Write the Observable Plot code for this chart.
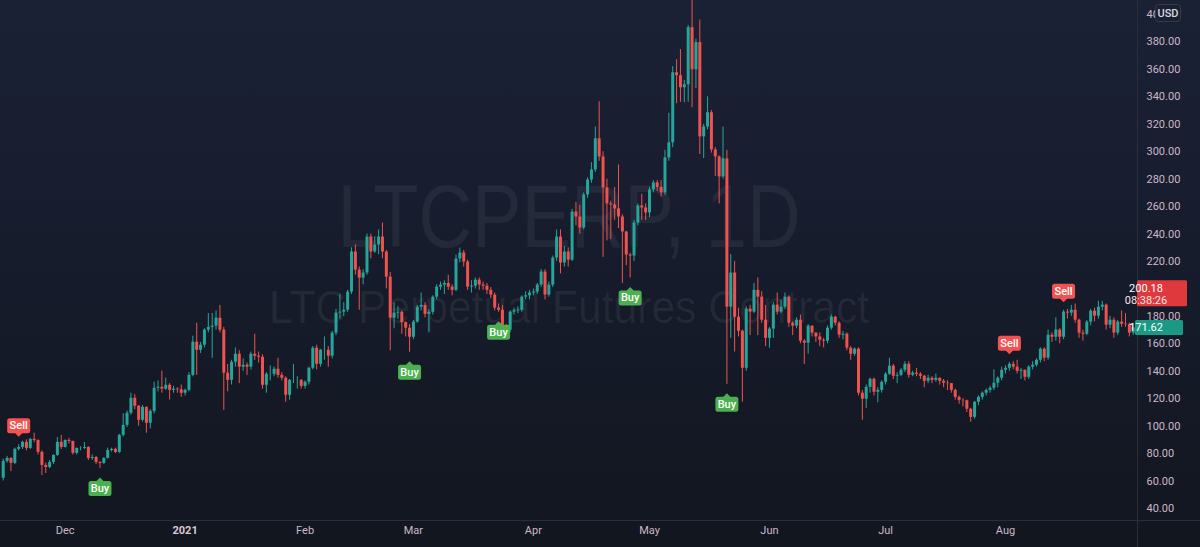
<!DOCTYPE html>
<html>
<head>
<meta charset="utf-8">
<script src="https://cdn.jsdelivr.net/npm/d3@7"></script>
<script src="https://cdn.jsdelivr.net/npm/@observablehq/plot@0.6"></script>
<style>
html,body{margin:0;padding:0;background:#131722;}
#chart{width:1200px;height:547px;position:relative;overflow:hidden;
  background:linear-gradient(180deg,#1b2135 0%,#171c2d 45%,#12161f 100%);}
#chart svg{display:block;}
</style>
</head>
<body>
<div id="chart"></div>
<script>
// ---------- DATA ----------
const startDate = "2020-11-15";   // first daily candle
const firstOpen = 62;
const closes = [
  74.3,76.5,72.9,83.1,84.5,88.2,83.8,90.4,89.6,80.9,
  71.4,69.9,73.6,78.7,88.2,84.5,89.6,88.9,80.2,83.8,
  83.8,84.5,76.5,77.2,73.6,72.9,76.5,82.3,83.1,80.9,
  93.3,100.6,109.4,120.3,114.5,104.3,113.7,102.1,110.8,127.6,
  128.3,127,129.8,126.1,127,126.5,124,126.1,137,161.2,
  155.3,159,170,172,172.9,178.7,170,138.6,133.4,146.6,
  152.4,143,144.4,143,152.4,151,150.2,129.8,137.8,137.8,
  141.5,137,134.9,122.5,133.4,133.4,133.4,129,132,142.2,
  156.8,145.1,155.3,155.3,151,167.8,182.4,
  183.1,184.5,197.7,226.9,213.7,207.9,211.6,237.8,226.9,
  232,
  237.8,226.9,208.6,178.7,182.4,183,175.4,171.4,164.8,
  175.8,186.7,188,181.5,183,194,201.3,202.8,204,201.3,
  199,221.8,226.2,219.6,201.3,202,206.4,202.8,202,199,
  195.5,186,184.5,
  171.4,170,183.1,184,184.5,194,
  195,
  197,197.7,202.8,212.3,195.5,202.8,222.5,237.8,218.9,226.9,
  221,256,252.4,244.4,268.5,279.4,286.7,309.4,296.2,273.6,
  262,261.2,258.3,252.4,241.5,224.7,224,248,260.5,259,
  255.4,272.1,277.3,
  274,
  270,295.5,306.5,357.5,355.4,346.6,348.8,390.4,359.7,379.5,
  310.8,318,328.4,301.3,296.2,281.6,294.8,186.7,
  211.6,179.4,169.2,142.2,185.3,183.1,199,194,177.2,164,
  170.7,188.2,183.1,186.7,194,175,172.9,177.2,161.9,160.5,
  172.9,167.8,
  165,
  162.6,161.9,171.4,179.4,175,166.3,167,156.8,152.4,156.1,
  124,119.6,128.3,134.2,124.7,126.1,132,137.8,143.7,136.4,
  137,140.7,145.1,137.1,138.6,137.8,136.4,132.7,134.9,133.4,
  134.9,132.7,131.3,131,126.1,121,118.8,118.5,112.3,106.4,
  117.4,121,124,126.1,127.6,131.3,134.9,140.7,142.2,145.1,
  143,140,140.7,135.6,143,144.4,148,156.1,149.5,166.3,
  164.8,170,164.8,183.1,182.4,184.5,177.2,167.8,167,175.8,
  183.8,180.2,186.7,188.2,173.6,177.2,167.8,175.8,174.3,174,
  167.8,171.62
];
const highs = [
  76,78,77,84,86.5,89,90,91,94.8,90,
  82,73,75,79,91.8,93.3,90,91,89,84,
  85,88,85,79,78,74,77,84,84,84,
  94,109,111,124,123,115,115,114,112,132,
  133,140,135,131,129,128,130,127,139,165.6,
  175,161,171,182,182,184,188,172,145,148,
  157,155,149,146,154,167,154,152,139,144,
  143,149.5,139,136,134,145,136,134,133,143,
  158,159,156,165,158,169,185,
  196,190,199,230,232,216,214,240,240,
  238,
  243,248,228,212,190,187,184,176,174,
  177,188,197,190,185,195,203,205,206,210,
  203,224.7,229.8,228,221,206,208,208,205,204,
  201,197,189,
  188,174,184,186,187,195,
  198,
  199,200,204,214,214,205,224,243,243,231,
  230,258,263,261,270,281,292,318,336.4,300,
  280,264,274,290.4,254,242,226,250,262,269,
  262,274,279,
  279,
  279,301,328,362,367,374.4,352,392,411,382,
  396,320,340,330,303,297,318,301,
  225,220,186,170,187,188,204,208,198,188,
  172,190,197,192,197,195,176,179,181,163,
  174,173,
  168,
  168,164,173,181,180,176,169,168,158,157,
  157,126,130,135,135,128,133,139,149.5,145,
  139,142,147,147,140,142,139,137,137,136,
  138,135,134,133,131,127,122,120,119,113,
  118,122,125,127,129,141,136,143,144,146.5,
  147,148,142,141,144,147,149,157,157,170,
  168,179,171,184.5,185,188,189,178,170,177,
  185,186,191,191,189,180,179,177,184,182,
  175,175
];
const lows = [
  60,73,67,72,82,83,82,83,88,79,
  64,65.5,69,72,78,83,84,87,79,79,
  82,83,75,75,72,69.2,72,76,81,80,
  80,92,99,108,112,100,103,94.8,98,109,
  125,124,126,119,124,124,121,122,125,136,
  137,153,157,168,149.5,170,168,111.5,125,130,
  143,131,140,137,141,148,146,127,124,133,
  136,135,133,117.4,119,131,127,127,127,130,
  141,141,143,148,143,149,166,
  178,180,183,196,210,184.5,203,210,222,
  226,
  225,222,200,155,171,178,167,165,153.9,
  163,175,184,179,168.5,181,192,199,196,199,
  195,198,219,216,199,197,200,199,199,196,
  193,184,183,
  168,164.8,168,181,182,183,
  192,
  192,195,196,201,192,194,201,220,211,216,
  216,220,246,240,243,266,277,285,293,223,
  235,236,250,244,204,217,208,220,246,250,
  250,252,270,
  271,
  267,268,293,303,335,336,335.7,336,332,346,
  298,295,316,299,282,262,280,130.5,
  164,154,165,117.4,140,166,182,166,175,158,
  156.8,164,181,182,185,172,166,171,160,145,
  152.4,165,
  161,
  158,157,160,170,173,164,163,155,148,151,
  122,104.3,113,124,122,117,124,130,137,134,
  131,136,139,135,136,136,134,128,131,131,
  132,130,128,126,124,119,116,114,110,102.8,
  105,115,119,122,124,126,128,133,138,140,
  141,138,134,133,134,141,143,146,147,148,
  161,162,160,163,178,180,175,164,162,166,
  173,176,178,184,170,171,164,166,172,172,
  165,166
];
const signalDates = ["2020-11-19","2020-12-10","2021-02-28","2021-03-23","2021-04-26","2021-05-21","2021-08-02","2021-08-16"];
const signalTypes = ["Sell","Buy","Buy","Buy","Buy","Buy","Sell","Sell"];
const yTicks = [40,60,80,100,120,140,160,180,200,220,240,260,280,300,320,340,360,380,400];
const monthDates = ["2020-12-01","2021-02-01","2021-03-01","2021-04-01","2021-05-01","2021-06-01","2021-07-01","2021-08-01"];
const monthLabels = ["Dec","Feb","Mar","Apr","May","Jun","Jul","Aug"];
const yearDates = ["2021-01-01"];
const yearLabels = ["2021"];
const watermarkTitle = "LTCPERP, 1D";
const watermarkSubtitle = "LTC Perpetual Futures Contract";
const lastPrice = 171.62;
const alertPrice = 200.18;
const alertTimer = "08:38:26";
const currency = "USD";

// ---------- BUILD ----------
const day = 864e5;
const t0 = +new Date(startDate);
const candles = closes.map((c, i) => {
  const open = i === 0 ? firstOpen : closes[i - 1];
  return {date: new Date(t0 + i * day), open, close: c,
          high: Math.max(highs[i], open, c), low: Math.min(lows[i], open, c)};
});
const up = candles.filter(d => d.close >= d.open);
const down = candles.filter(d => d.close < d.open);
const byDate = new Map(candles.map(d => [+d.date, d]));
const signals = signalDates.map((s, i) => {
  const c = byDate.get(+new Date(s));
  return {date: c.date, type: signalTypes[i], price: signalTypes[i] === "Sell" ? c.high : c.low};
});
const sells = signals.filter(d => d.type === "Sell");
const buys = signals.filter(d => d.type === "Buy");
const months = monthDates.map((d, i) => ({date: new Date(d), label: monthLabels[i]}));
const years = yearDates.map((d, i) => ({date: new Date(d), label: yearLabels[i]}));

function labelSymbol(above) {
  const s = above ? -1 : 1, w = 11.5, h = 15, p = 3.5, r = 2.5;
  return {draw(ctx) {
    const a = s * p, b = s * (p + h);
    ctx.moveTo(0, 0);
    ctx.lineTo(p, a);
    ctx.lineTo(w - r, a);
    ctx.arcTo(w, a, w, a + s * r, r);
    ctx.lineTo(w, b - s * r);
    ctx.arcTo(w, b, w - r, b, r);
    ctx.lineTo(-w + r, b);
    ctx.arcTo(-w, b, -w, b - s * r, r);
    ctx.lineTo(-w, a + s * r);
    ctx.arcTo(-w, a, -w + r, a, r);
    ctx.lineTo(-p, a);
    ctx.closePath();
  }};
}

const UP = "#26a69a", DOWN = "#ef5350";
const TXT = "#cdb8c7";
const W = 1200, H = 547, MR = 63, MB = 27;

const plot = Plot.plot({
  width: W, height: H,
  marginLeft: 0, marginRight: MR, marginTop: 0, marginBottom: MB,
  style: {background: "transparent", color: TXT, fontFamily: "Roboto, 'Liberation Sans', sans-serif", fontSize: "11px", overflow: "visible"},
  x: {type: "utc", domain: [new Date(t0 - 0.70 * day), new Date(t0 + 293.1 * day)], axis: null},
  y: {domain: [31.25, 410.2], axis: "right", ticks: yTicks, tickSize: 0, tickPadding: 9,
      tickFormat: d => d.toFixed(2), label: null},
  marks: [
    Plot.text([watermarkTitle], {frameAnchor: "middle", dy: -42, fontSize: 89,
      fontFamily: "'Liberation Sans', sans-serif", fill: "#ffffff", fillOpacity: 0.06}),
    Plot.text([watermarkSubtitle], {frameAnchor: "middle", dy: 47, fontSize: 47,
      fontFamily: "'Liberation Sans', sans-serif", fill: "#ffffff", fillOpacity: 0.06}),
    Plot.ruleX(up, {x: "date", y1: "low", y2: "high", stroke: UP, strokeWidth: 1}),
    Plot.ruleX(down, {x: "date", y1: "low", y2: "high", stroke: DOWN, strokeWidth: 1}),
    Plot.ruleX(up, {x: "date", y1: "open", y2: "close", stroke: UP, strokeWidth: 3}),
    Plot.ruleX(down, {x: "date", y1: "open", y2: "close", stroke: DOWN, strokeWidth: 3}),
    Plot.dot(sells, {x: "date", y: "price", dy: -8, r: 5, symbol: labelSymbol(true), fill: "#f25350", stroke: "none"}),
    Plot.text(sells, {x: "date", y: "price", dy: -19, text: "type", fill: "#ffffff", fontSize: 11, fontWeight: 500}),
    Plot.dot(buys, {x: "date", y: "price", dy: 9, r: 5, symbol: labelSymbol(false), fill: "#4caf50", stroke: "none"}),
    Plot.text(buys, {x: "date", y: "price", dy: 20, text: "type", fill: "#ffffff", fontSize: 11, fontWeight: 500}),
    Plot.text(months, {x: "date", text: "label", frameAnchor: "bottom", dy: 13, fill: TXT, fontSize: 11}),
    Plot.text(years, {x: "date", text: "label", frameAnchor: "bottom", dy: 13, fill: "#ddc8d6", fontSize: 11, fontWeight: "bold"})
  ]
});

document.getElementById("chart").appendChild(plot);

// fit watermark widths to the reference lettering
const svg = d3.select(plot);
svg.selectAll("text").filter(function() { return this.textContent === watermarkTitle; })
  .attr("textLength", 463).attr("lengthAdjust", "spacingAndGlyphs");
svg.selectAll("text").filter(function() { return this.textContent === watermarkSubtitle; })
  .attr("textLength", 600).attr("lengthAdjust", "spacingAndGlyphs");

// chrome: separators, price badges, currency box
const ys = plot.scale("y");
const plotRight = W - MR, plotBottom = H - MB;
const g = svg.append("g").attr("font-family", "Roboto, 'Liberation Sans', sans-serif").attr("font-size", 11);
g.append("line").attr("x1", 0).attr("x2", W).attr("y1", plotBottom + 0.5).attr("y2", plotBottom + 0.5).attr("stroke", "#2a2e39");
g.append("line").attr("x1", plotRight + 0.5).attr("x2", plotRight + 0.5).attr("y1", 0).attr("y2", H).attr("stroke", "#2a2e39");

const ya = ys.apply(alertPrice);
g.append("rect").attr("x", plotRight).attr("y", ya - 8).attr("width", 50).attr("height", 26).attr("rx", 1.5).attr("fill", "#e0393d");
g.append("text").attr("x", plotRight + 9).attr("y", ya).attr("dy", "0.35em").attr("fill", "#ffffff").text(alertPrice.toFixed(2));
g.append("text").attr("x", plotRight + 9).attr("y", ya + 11.5).attr("dy", "0.35em").attr("fill", "#ffe3e3").text(alertTimer);

const yl = ys.apply(lastPrice);
g.append("rect").attr("x", plotRight - 2).attr("y", yl - 7.5).attr("width", 48).attr("height", 15).attr("rx", 1.5).attr("fill", "#1a9985");
g.append("text").attr("x", plotRight + 9).attr("y", yl).attr("dy", "0.35em").attr("fill", "#ffffff").text(lastPrice.toFixed(2));

g.append("rect").attr("x", 1155.5).attr("y", 4.5).attr("width", 25).attr("height", 17).attr("rx", 3)
  .attr("fill", "#1b2133").attr("stroke", "#363b4c");
g.append("text").attr("x", 1168).attr("y", 13).attr("dy", "0.35em").attr("text-anchor", "middle")
  .attr("fill", "#d6d8e0").attr("font-weight", 500).text(currency);
</script>
</body>
</html>
